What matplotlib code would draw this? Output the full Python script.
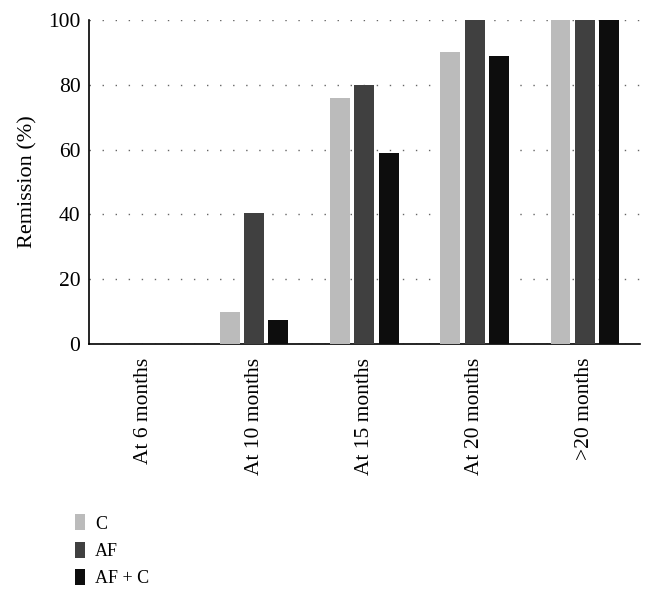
import matplotlib
matplotlib.use("Agg")
import matplotlib.pyplot as plt
import numpy as np

categories = ["At 6 months", "At 10 months", "At 15 months", "At 20 months", ">20 months"]
series_names = ["C", "AF", "AF + C"]
c_vals = [0, 10, 76, 90, 100]
af_vals = [0, 40.5, 80, 100, 100]
afc_vals = [0, 7.3, 59, 89, 100]
colors = ["#bbbbbb", "#404040", "#0d0d0d"]

plt.rcParams['font.family'] = ['Liberation Serif', 'DejaVu Serif']

fig = plt.figure(figsize=(6.53, 5.98), dpi=100)
ax = fig.add_axes([0.136, 0.4247, 0.844, 0.5419])

x = np.arange(len(categories))
w = 0.18
step = 0.22
for i, (vals, name, col) in enumerate(zip([c_vals, af_vals, afc_vals], series_names, colors)):
    ax.bar(x + (i - 1) * step, vals, width=w, color=col, label=name, zorder=3)

ax.set_xlim(-0.5, 4.5)
ax.set_ylim(0, 100)
ax.set_yticks([0, 20, 40, 60, 80, 100])
ax.set_xticks(x)
ax.set_xticklabels(categories, rotation=90, fontsize=15.5)
ax.tick_params(axis='y', labelsize=15.5, length=0, pad=6)
ax.tick_params(axis='x', length=0, pad=10)
ax.set_ylabel("Remission (%)", fontsize=16, labelpad=8)
ax.grid(axis='y', linestyle=(0, (1, 8.4)), color='#666666', linewidth=1.0, zorder=0)
for s in ['top', 'right']:
    ax.spines[s].set_visible(False)
ax.spines['left'].set_linewidth(1.2)
ax.spines['bottom'].set_linewidth(1.2)

fig.legend(loc='upper left', bbox_to_anchor=(0.104, 0.152), frameon=False,
           fontsize=13, handlelength=0.55, handleheight=1.0, handletextpad=0.55,
           labelspacing=0.5, borderaxespad=0)

fig.savefig("out.png", dpi=100)
